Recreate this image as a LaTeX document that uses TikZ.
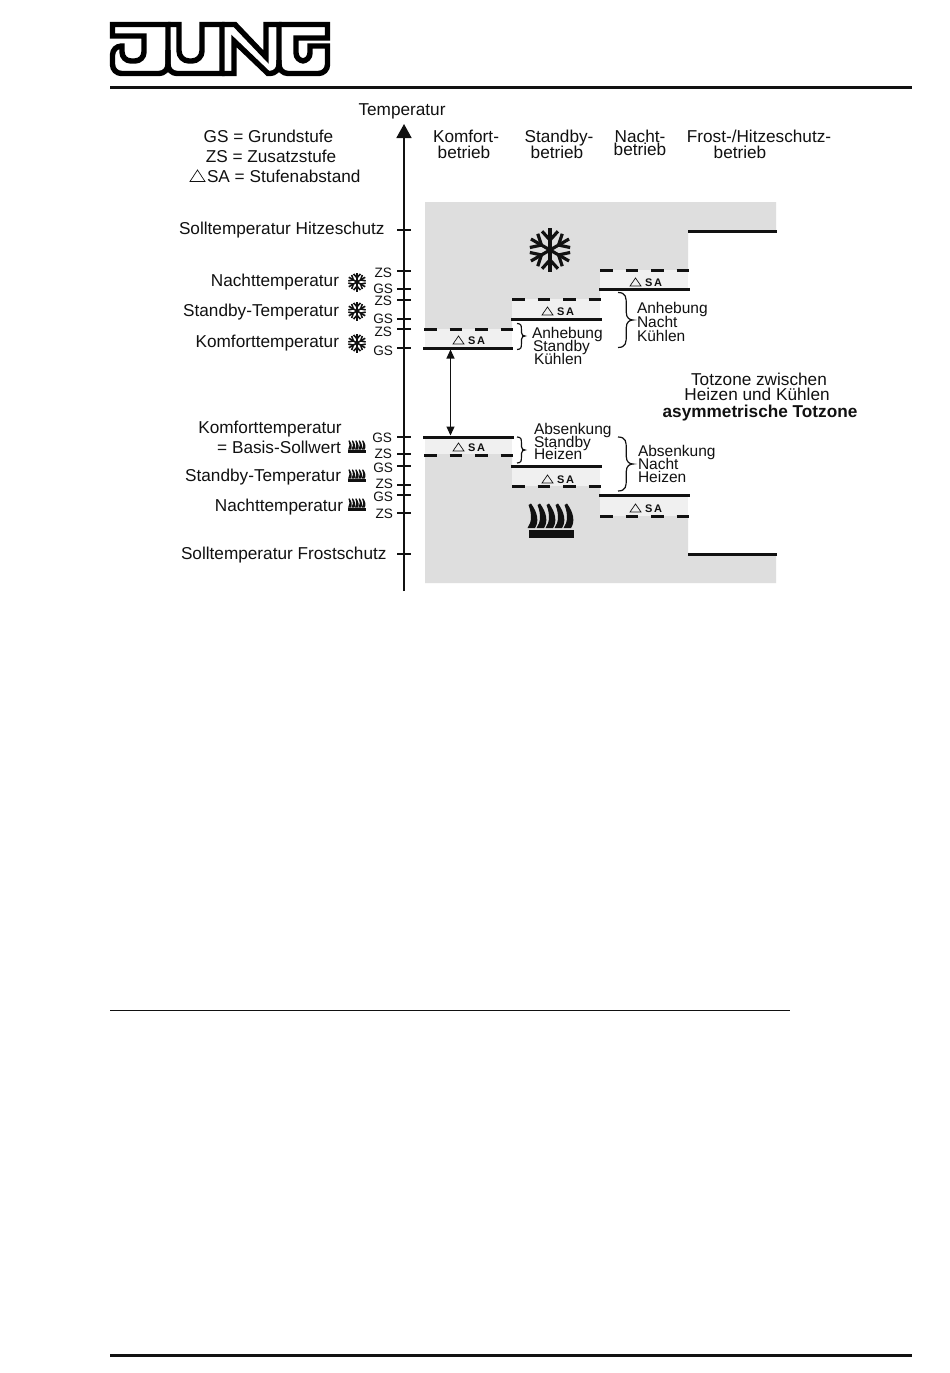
\documentclass[tikz,border=0pt]{standalone}
\usepackage{fontspec}
\setmainfont{Liberation Sans}
\usetikzlibrary{arrows.meta}
\definecolor{band}{HTML}{F0F0F0}
\definecolor{zone}{HTML}{DEDEDE}
\definecolor{ink}{HTML}{111111}
\tikzset{
  x=1pt,y=-1pt,
  lab/.style={inner sep=0pt,outer sep=0pt,text=ink,font=\fontsize{17.2}{18}\selectfont},
  mid/.style={lab,font=\fontsize{15.5}{16}\selectfont},
  lev/.style={lab,anchor=base east,font=\fontsize{13.6}{14}\selectfont},
  solidlev/.style={line width=3pt,ink},
  dashlev/.style={line width=3pt,ink,dash pattern=on 12.5pt off 13pt},
  tick/.style={line width=1.1pt,ink},
  logo/.style={line width=5.4pt,black,miter limit=10},
  bracepath/.style={line width=1.2pt,ink},
  salab/.style={lab,anchor=base west,font=\bfseries\fontsize{11}{12}\selectfont},
  tri/.style={line width=.7pt,ink}
}
\newcommand{\flake}[4]{% x,y,radius,width
  \begin{scope}[shift={(#1,#2)},scale=#3,line width=#4,ink]
    \foreach \a in {30,90,150,210,270,330}{
      \draw[rotate=\a] (0,0)--(1,0);
      \draw[rotate=\a] (.45,0)--(.85,.36);
      \draw[rotate=\a] (.45,0)--(.85,-.36);
    }
  \end{scope}}
\newcommand{\heat}[3]{% x,y(bottom centre),scale
  \begin{scope}[shift={(#1,#2)},scale=#3,ink]
    \fill (-22.5,1) rectangle (22.5,9);
    \foreach \d in {-18,-9,0,9,18}{
      \fill[shift={(\d,0)}] (-5.5,-1) .. controls (-1,-7) and (-1,-15) .. (-4.5,-24) -- (-2,-25.5)
        .. controls (5,-16) and (6,-7) .. (2,-1) -- cycle;
    }
  \end{scope}}
\newcommand{\satag}[3]{% x,y base,name
  \draw[tri] (#1-15,#2) -- (#1-4,#2) -- (#1-9.5,#2-8) -- cycle;
  \node[salab] (#3) at (#1,#2+.5) {S\,A};}
\newcommand{\brc}[4]{% x start, y top, y mid, y bottom; tip width scale from x
  \draw[bracepath] (#1,#2) .. controls ({#1+.55*\bw},#2) and ({#1+.55*\bw},{#2+.1*(#4-#2)}) .. ({#1+.55*\bw},{#2+.22*(#4-#2)})
    -- ({#1+.55*\bw},{#3-.14*(#4-#2)}) .. controls ({#1+.55*\bw},{#3-.03*(#4-#2)}) and ({#1+.8*\bw},#3) .. ({#1+\bw},#3)
    .. controls ({#1+.8*\bw},#3) and ({#1+.55*\bw},{#3+.03*(#4-#2)}) .. ({#1+.55*\bw},{#3+.14*(#4-#2)})
    -- ({#1+.55*\bw},{#4-.22*(#4-#2)}) .. controls ({#1+.55*\bw},{#4-.1*(#4-#2)}) and ({#1+.55*\bw},#4) .. (#1,#4);}
\begin{document}
\begin{tikzpicture}
\useasboundingbox (0,0) rectangle (950,1373);
\fill[white] (0,0) rectangle (950,1373);
% logo
\draw[logo,line join=miter] (112.5,24.5) -- (168,24.5) [rounded corners=9pt] -- (168,73.5) -- (112.5,73.5) [sharp corners] [rounded corners=9pt] -- (112.5,46) [sharp corners] -- (122,46) [rounded corners=9pt] -- (122,61) -- (144,61) [sharp corners] -- (144,36) -- (112.5,36) -- cycle;
\draw[logo,line join=miter] (168,24.5) -- (179,24.5) [rounded corners=10pt] -- (179,61) -- (202,61) [sharp corners] -- (202,24.5) -- (222,24.5) -- (222,73.5) [rounded corners=9pt] -- (168,73.5) -- (168,50);
\draw[logo,line join=miter] (222,24.5) -- (235,24.5) -- (266,57) -- (266,24.5) -- (279,24.5) -- (279,50) [rounded corners=9pt] -- (279,73.5) [sharp corners] -- (268,73.5) -- (234,41) -- (234,73.5) -- (222,73.5);
\draw[logo,line join=miter] (279,24.5) -- (327.5,24.5) -- (327.5,38) -- (296,38) [rounded corners=8pt] -- (296,61) -- (310,61) [sharp corners] -- (310,46) -- (327.5,46) [rounded corners=9pt] -- (327.5,73.5) -- (279,73.5) [sharp corners] -- (279,60);
\fill[ink] (110,86) rectangle (912,88.5);
% zones
\fill[zone] (425,202) -- (776,202) -- (776,231) -- (688,231) -- (688,270) -- (600,270) -- (600,299) -- (512,299) -- (512,329) -- (425,329) -- cycle;
\fill[zone] (425,454) -- (512,454) -- (512,486) -- (600,486) -- (600,516) -- (688,516) -- (688,554) -- (776,554) -- (776,583) -- (425,583) -- cycle;
\fill[band] (425,329) rectangle (512,348);
\fill[band] (512,299) rectangle (600,319);
\fill[band] (600,270) rectangle (688,289);
\fill[band] (425,437) rectangle (512,454);
\fill[band] (512,466) rectangle (600,486);
\fill[band] (600,495) rectangle (688,516);
% levels
\draw[solidlev] (423,348) -- (513,348);
\draw[solidlev] (511,319) -- (602,319);
\draw[solidlev] (599,289) -- (690,289);
\draw[solidlev] (688,231) -- (777,231);
\draw[solidlev] (423,437) -- (514,437);
\draw[solidlev] (511,466) -- (602,466);
\draw[solidlev] (599,495) -- (690,495);
\draw[solidlev] (688,554) -- (777,554);
\draw[dashlev] (424,329) -- (513,329);
\draw[dashlev] (512,299) -- (602,299);
\draw[dashlev] (600,270) -- (690,270);
\draw[dashlev] (424,455) -- (514,455);
\draw[dashlev] (512,486) -- (602,486);
\draw[dashlev] (600,516) -- (690,516);
% axis
\coordinate (axb) at (404,591);
\coordinate (axt) at (404,124);
\draw[line width=1.8pt,ink,-{Triangle[length=14pt,width=15pt]}] (axb) -- (axt);
\foreach \y in {230,271,289,300,319,329,348,437,454,466,485,495,513,554}
  \draw[tick] (397,\y) -- (411,\y);
% deadband arrow
\coordinate (dba) at (450.5,349.5);
\coordinate (dbb) at (450.5,435.5);
\draw[line width=1.1pt,ink,{Triangle[length=9pt,width=8pt]}-{Triangle[length=9pt,width=8pt]}] (dba) -- (dbb);
% braces
\def\bw{8}
\brc{517}{323.5}{336}{349.5}
\brc{517}{437}{450}{463}
\def\bw{15}
\brc{618}{292.5}{320}{347.5}
\brc{618}{437}{464}{491}
% icons
\flake{550}{250}{22}{3.2pt}
\flake{357}{282}{9.5}{1.6pt}
\flake{357}{311}{9.5}{1.6pt}
\flake{357}{343}{9.5}{1.6pt}
\heat{551}{529}{1}
\heat{357}{450}{.38}
\heat{357}{479}{.38}
\heat{357}{508}{.38}
% SA tags
\satag{468}{344}{sa1}
\satag{557}{315}{sa2}
\satag{645}{286}{sa3}
\satag{468}{451}{sa4}
\satag{557}{483}{sa5}
\satag{645}{512}{sa6}
% legend
\node[lab,anchor=base] (tTemp) at (402,115) {Temperatur};
\node[lab,anchor=base] (tGS) at (268.5,142) {GS = Grundstufe};
\node[lab,anchor=base] (tZS) at (271,162) {ZS = Zusatzstufe};
\draw[tri] (190,181.5) -- (205,181.5) -- (197.5,170) -- cycle;
\node[lab,anchor=base west] (tSA) at (207,182) {SA = Stufenabstand};
\node[lab,anchor=base] (h1a) at (466,142) {Komfort-};
\node[lab,anchor=base] (h1b) at (464,158) {betrieb};
\node[lab,anchor=base] (h2a) at (559,142) {Standby-};
\node[lab,anchor=base] (h2b) at (557,158) {betrieb};
\node[lab,anchor=base] (h3a) at (640,142) {Nacht-};
\node[lab,anchor=base] (h3b) at (640,155) {betrieb};
\node[lab,anchor=base] (h4a) at (759,142) {Frost-/Hitzeschutz-};
\node[lab,anchor=base] (h4b) at (740,158) {betrieb};
\node[lab,anchor=base west] (l1) at (179,234) {Solltemperatur Hitzeschutz};
\node[lab,anchor=base east] (l2) at (339,286) {Nachttemperatur};
\node[lab,anchor=base east] (l3) at (339,316) {Standby-Temperatur};
\node[lab,anchor=base east] (l4) at (339,347) {Komforttemperatur};
\node[lab,anchor=base] (l5) at (270,433) {Komforttemperatur};
\node[lab,anchor=base east] (l6) at (341,453) {= Basis-Sollwert};
\node[lab,anchor=base east] (l7) at (341,481) {Standby-Temperatur};
\node[lab,anchor=base east] (l8) at (343,511) {Nachttemperatur};
\node[lab,anchor=base west] (l9) at (181,559) {Solltemperatur Frostschutz};
% ZS GS
\node[lev] (z1) at (392,277) {ZS};
\node[lev] (g1) at (393,293) {GS};
\node[lev] (z2) at (392,305) {ZS};
\node[lev] (g2) at (393,323) {GS};
\node[lev] (z3) at (392,336) {ZS};
\node[lev] (g3) at (393,355) {GS};
\node[lev] (g4) at (392,442) {GS};
\node[lev] (z4) at (392,458) {ZS};
\node[lev] (g5) at (393,472) {GS};
\node[lev] (z5) at (393,488) {ZS};
\node[lev] (g6) at (393,501) {GS};
\node[lev] (z6) at (393,518) {ZS};
% side texts
\node[mid,anchor=base west] (a1) at (532,338) {Anhebung};
\node[mid,anchor=base west] (a2) at (533,351) {Standby};
\node[mid,anchor=base west] (a3) at (534,364) {Kühlen};
\node[mid,anchor=base west] (b1) at (637,313) {Anhebung};
\node[mid,anchor=base west] (b2) at (637,327) {Nacht};
\node[mid,anchor=base west] (b3) at (637,341) {Kühlen};
\node[mid,anchor=base west] (c1) at (534,434) {Absenkung};
\node[mid,anchor=base west] (c2) at (534,447) {Standby};
\node[mid,anchor=base west] (c3) at (534,459) {Heizen};
\node[mid,anchor=base west] (d1) at (638,456) {Absenkung};
\node[mid,anchor=base west] (d2) at (638,469) {Nacht};
\node[mid,anchor=base west] (d3) at (638,482) {Heizen};
\node[lab,anchor=base] (e1) at (759,385.5) {Totzone zwischen};
\node[lab,anchor=base] (e2) at (757,400) {Heizen und Kühlen};
\node[lab,anchor=base,font=\bfseries\fontsize{17.2}{18}\selectfont] (e3) at (760,417) {asymmetrische Totzone};
% rules
\fill[ink] (110,1009.5) rectangle (790,1010.7);
\fill[ink] (110,1354) rectangle (912,1356.5);
\end{tikzpicture}
\end{document}
